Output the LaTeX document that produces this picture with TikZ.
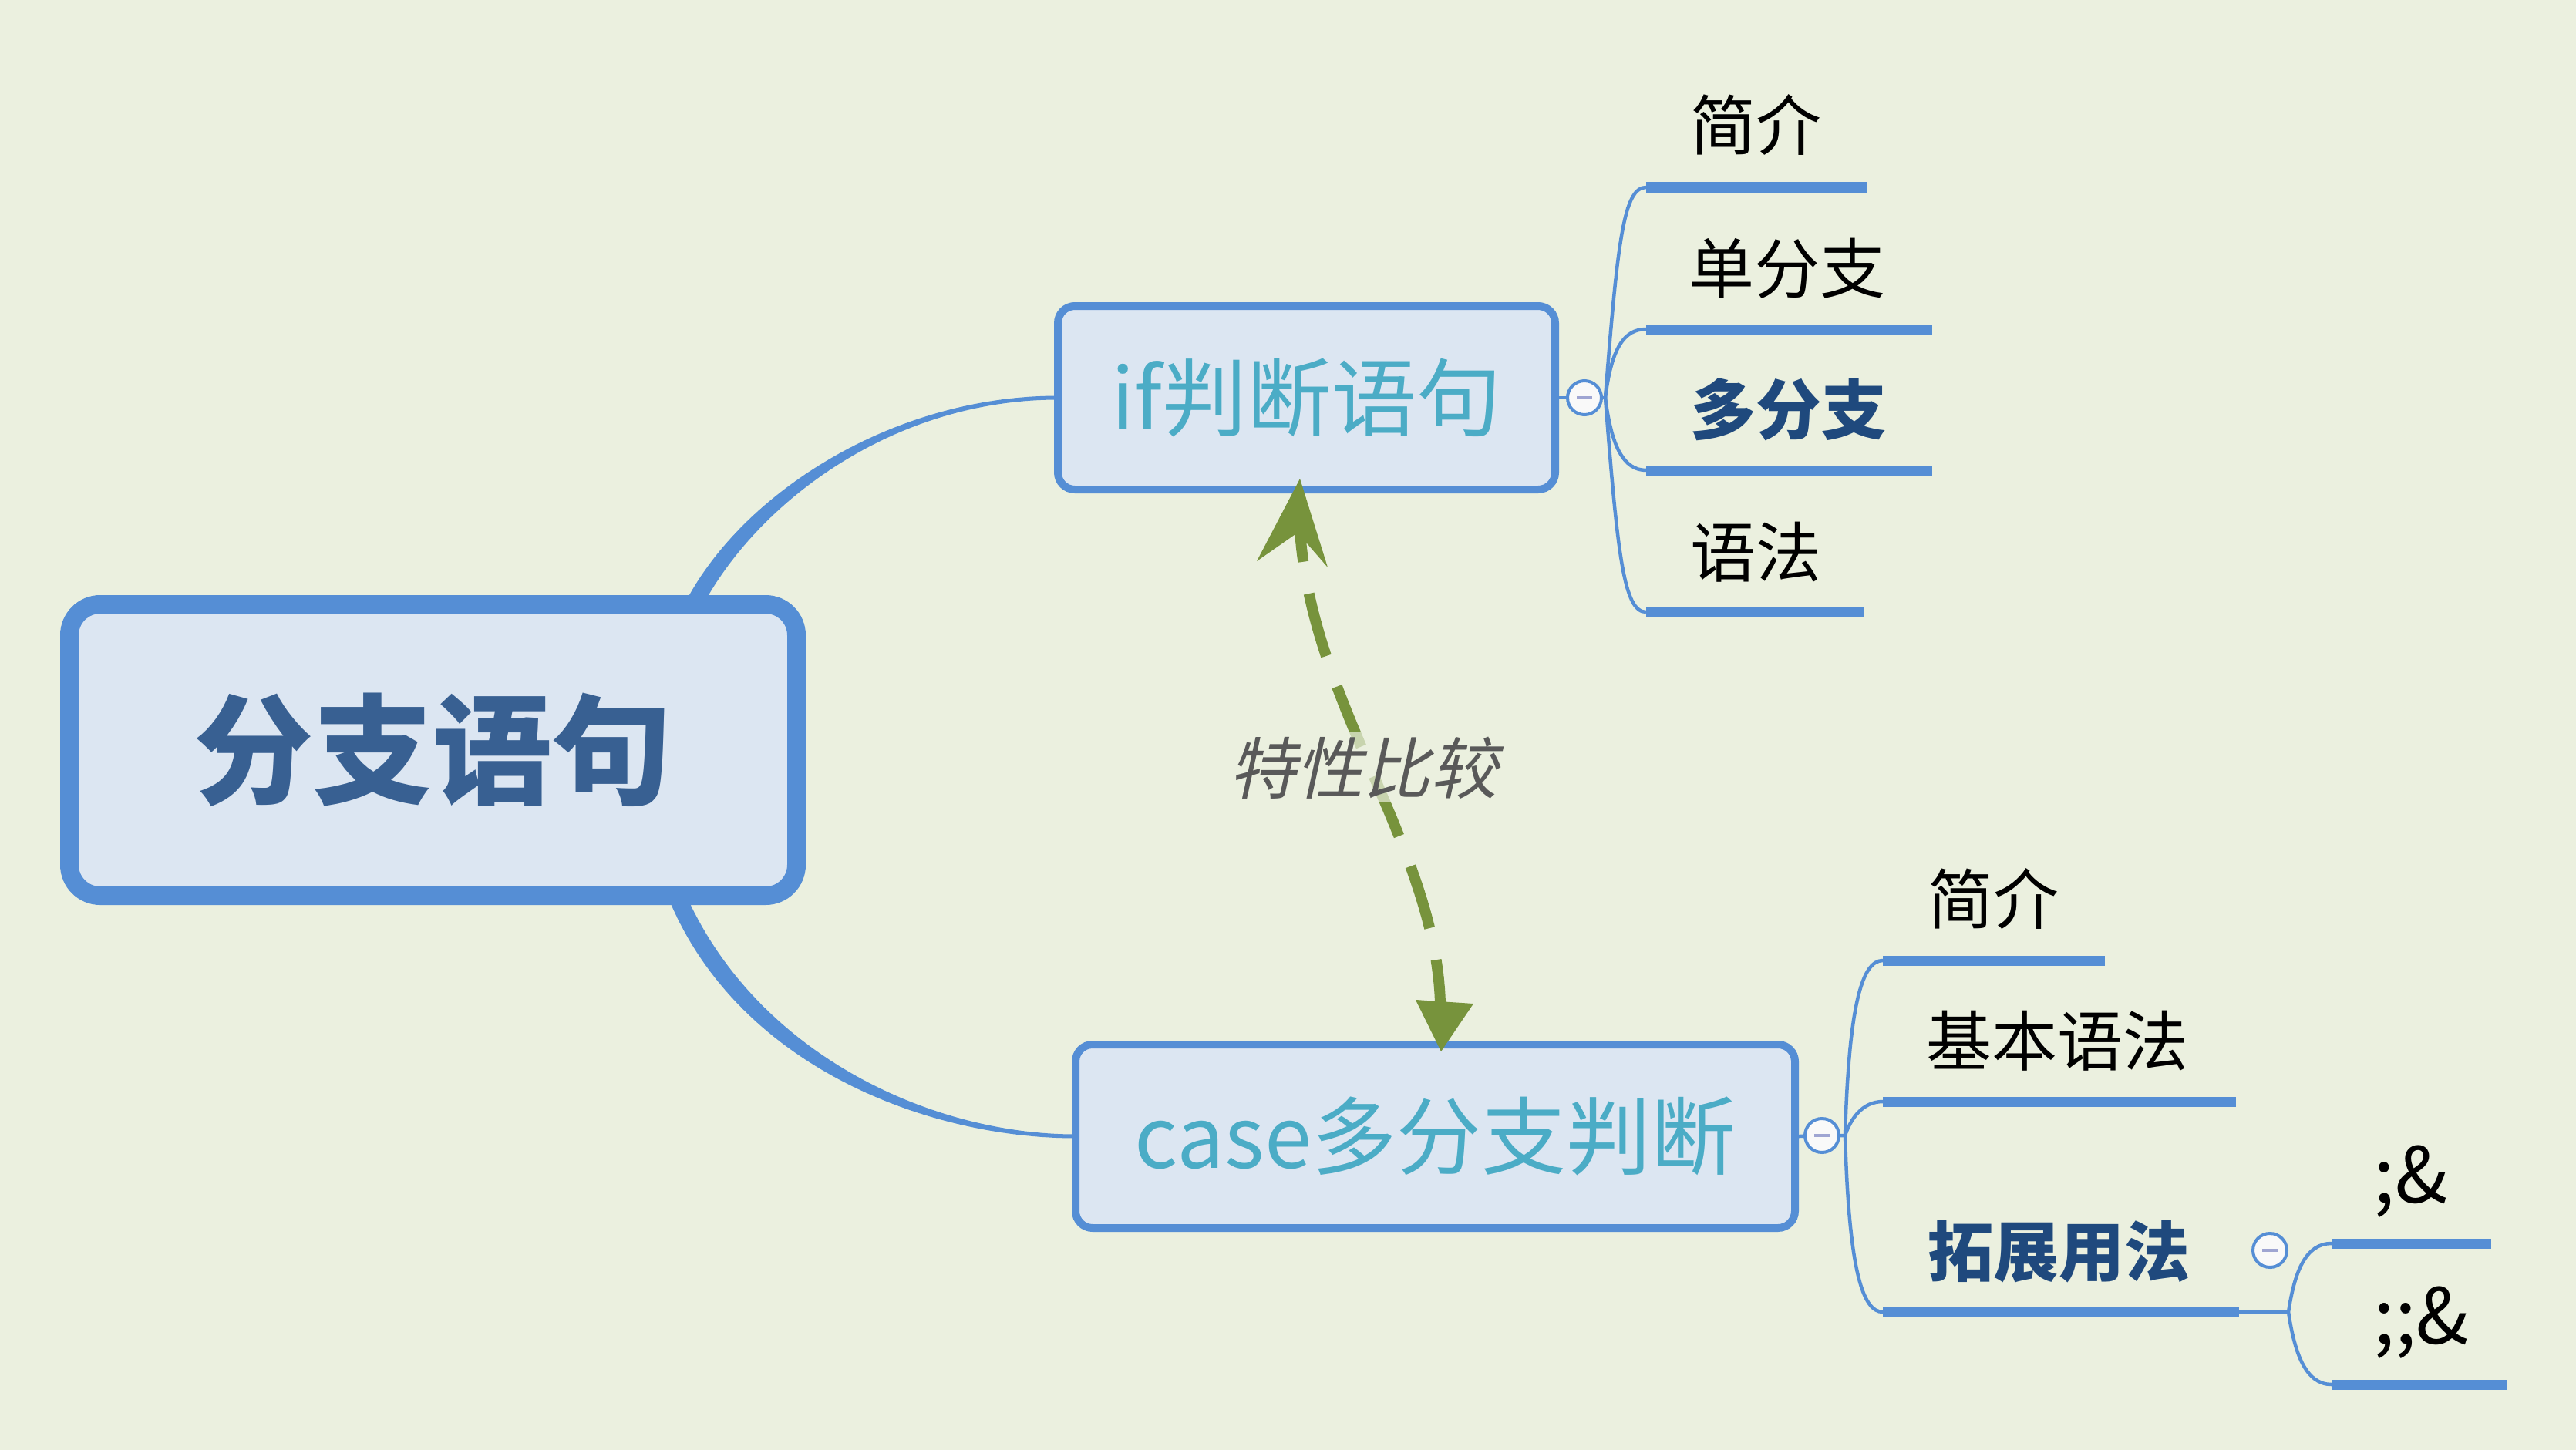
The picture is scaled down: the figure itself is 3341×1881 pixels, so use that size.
\documentclass[tikz,border=0pt]{standalone}
\usepackage{fontspec}
\setmainfont{Noto Sans CJK SC}
\newfontfamily\slantfont{Noto Sans CJK SC}[FakeSlant=0.22]
\usetikzlibrary{calc}
\definecolor{bgc}{HTML}{EBF0DF}
\definecolor{boxfill}{HTML}{DCE6F2}
\definecolor{bblue}{HTML}{558ED5}
\definecolor{roottext}{HTML}{386092}
\definecolor{subtext}{HTML}{4BACC6}
\definecolor{boldtext}{HTML}{1F497D}
\definecolor{agreen}{HTML}{77933C}
\definecolor{lgray}{HTML}{595959}
\definecolor{minusc}{HTML}{9FA5D2}
\definecolor{circfill}{HTML}{F9F9F9}
\begin{document}
\begin{tikzpicture}[x=1pt,y=-1pt,
  rootbox/.style={draw=bblue, fill=boxfill, line width=24pt, rounded corners=40pt,
    minimum width=943pt, minimum height=378pt, inner sep=0pt,
    text=roottext, font=\fontsize{155}{160}\selectfont\bfseries},
  subbox/.style={draw=bblue, fill=boxfill, line width=10pt, rounded corners=22pt,
    minimum height=238pt, inner sep=0pt,
    text=subtext, font=\fontsize{110}{115}\selectfont},
  conn/.style={draw=bblue, line width=4.5pt},
  uline/.style={draw=bblue, line width=13pt, line cap=butt},
  leaf/.style={anchor=base west, inner sep=0pt, font=\fontsize{85}{90}\selectfont, text=black},
  leafbold/.style={leaf, font=\fontsize{85}{90}\selectfont\bfseries, text=boldtext},
  leafsym/.style={anchor=base west, inner sep=0pt, font=\fontsize{100}{105}\selectfont, text=black},
  collapse/.style={circle, draw=bblue, fill=circfill, line width=4pt, minimum size=44pt, inner sep=0pt},
]
\useasboundingbox (0,0) rectangle (3341,1881);
\fill[bgc] (0,0) rectangle (3341,1881);

% anchors for main connectors (inside root box)
\coordinate (rtop) at (892,800);
\coordinate (rbot) at (873,1150);
\coordinate (ifw) at (1372,516);
\coordinate (csw) at (1395,1474);

% tapered main connectors
\fill[bblue] ($(rtop)+(-12,0)$) .. controls (946,650) and (1150,513.5) .. ($(ifw)+(0,-2.5)$)
  -- ($(ifw)+(0,2.5)$) .. controls (1150,518.5) and (970,662) .. ($(rtop)+(12,0)$) -- cycle;
\fill[bblue] ($(rbot)+(-12,0)$) .. controls (946,1380) and (1200,1476.5) .. ($(csw)+(0,2.5)$)
  -- ($(csw)+(0,-2.5)$) .. controls (1200,1471.5) and (972,1360) .. ($(rbot)+(12,0)$) -- cycle;

% boxes
\node[rootbox] (root) at (561.5,973) {分支语句};
\node[subbox, minimum width=645pt] (ifb) at (1694.5,516) {if判断语句};
\node[subbox, minimum width=933pt] (cs) at (1861.5,1474) {case多分支判断};

% ---- if branch ----
\coordinate (ifbr) at (2082,516);
\coordinate (u1s) at (2135,243);  \coordinate (u1e) at (2422,243);
\coordinate (u2s) at (2135,427);  \coordinate (u2e) at (2506,427);
\coordinate (u3s) at (2135,610);  \coordinate (u3e) at (2506,610);
\coordinate (u4s) at (2135,794);  \coordinate (u4e) at (2418,794);
\draw[conn] (ifb.east) -- (ifbr);
\draw[conn] (ifbr) .. controls (2098,311) and (2106,243) .. (u1s);
\draw[conn] (ifbr) .. controls (2090,452) and (2106,427) .. (u2s);
\draw[conn] (ifbr) .. controls (2090,580) and (2106,610) .. (u3s);
\draw[conn] (ifbr) .. controls (2098,721) and (2106,794) .. (u4s);
\node[collapse] (ifc) at (2055,516) {\textcolor{minusc}{\rule{20pt}{4pt}}};
\draw[uline] (u1s) -- (u1e);
\draw[uline] (u2s) -- (u2e);
\draw[uline] (u3s) -- (u3e);
\draw[uline] (u4s) -- (u4e);
\node[leaf] (t1) at (2192,195) {简介};
\node[leaf] (t2) at (2190,380) {单分支};
\node[leafbold] (t3) at (2192,563) {多分支};
\node[leaf] (t4) at (2192,748) {语法};

% ---- case branch ----
\coordinate (csbr) at (2393,1473);
\coordinate (u5s) at (2442,1246); \coordinate (u5e) at (2730,1246);
\coordinate (u6s) at (2442,1429); \coordinate (u6e) at (2900,1429);
\coordinate (u7s) at (2442,1702); \coordinate (u7e) at (2904,1702);
\draw[conn] (cs.east) -- (csbr);
\draw[conn] (csbr) .. controls (2398,1303) and (2415,1246) .. (u5s);
\draw[conn] (csbr) .. controls (2400,1452) and (2415,1429) .. (u6s);
\draw[conn] (csbr) .. controls (2398,1645) and (2415,1702) .. (u7s);
\node[collapse] (csc) at (2363,1473) {\textcolor{minusc}{\rule{20pt}{4pt}}};
\draw[uline] (u5s) -- (u5e);
\draw[uline] (u6s) -- (u6e);
\draw[uline] (u7s) -- (u7e);
\node[leaf] (t5) at (2500,1198) {简介};
\node[leaf] (t6) at (2498,1382) {基本语法};
\node[leafbold] (t7) at (2500,1655) {拓展用法};

% ---- sub branch ----
\coordinate (sbr) at (2968,1702);
\coordinate (u8s) at (3024,1613); \coordinate (u8e) at (3231,1613);
\coordinate (u9s) at (3024,1796); \coordinate (u9e) at (3251,1796);
\draw[conn] (u7e) -- (sbr);
\draw[conn] (sbr) .. controls (2976,1650) and (2990,1613) .. (u8s);
\draw[conn] (sbr) .. controls (2976,1755) and (2990,1796) .. (u9s);
\node[collapse] (exc) at (2944,1622) {\textcolor{minusc}{\rule{20pt}{4pt}}};
\draw[uline] (u8s) -- (u8e);
\draw[uline] (u9s) -- (u9e);
\node[leafsym] (t8) at (3078,1560) {;\&};
\node[leafsym] (t9) at (3078,1743) {;;\&};

% ---- relationship arrow ----
\coordinate (atip) at ($(ifb.south)+(-8.5,-19)$);
\coordinate (btip) at ($(cs.north)+(7.5,14)$);
\coordinate (astart) at ($(atip)+(-1,24)$);
\coordinate (aend) at ($(btip)+(-1,-39)$);
\draw[agreen, line width=14pt, dash pattern=on 84pt off 42pt]
  (astart) .. controls (1680,900) and (1875,1100) .. (aend);
\fill[agreen] (atip) -- ($(atip)+(-56,107)$) -- ($(atip)+(-3,70)$) -- ($(atip)+(36,115)$) -- cycle;
\fill[agreen] (btip) -- ($(btip)+(-33,-67)$) -- ($(btip)+(42,-62)$) -- cycle;
\node[anchor=base, inner sep=5pt, fill=bgc, fill opacity=0.7, text opacity=1,
  text=lgray, font=\fontsize{87}{92}\slantfont] (lab) at (1768,1029) {特性比较};
\end{tikzpicture}
\end{document}
